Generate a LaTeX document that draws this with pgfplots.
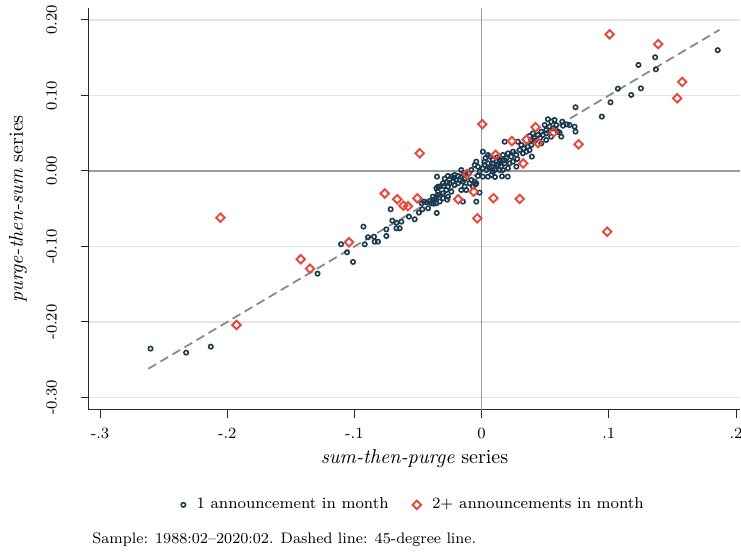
\documentclass[border=0pt]{standalone}
\usepackage{pgfplots}
\pgfplotsset{compat=1.18}
\definecolor{navy}{HTML}{1B3A4F}
\definecolor{tomato}{HTML}{E8473A}
\definecolor{zeroline}{HTML}{9A9A9A}
\definecolor{gridc}{HTML}{E4E4E4}
\definecolor{dashc}{HTML}{8A8A8A}
\pgfplotstableread{
x y
-0.2603 -0.2353
-0.2323 -0.2406
-0.2129 -0.2327
-0.1290 -0.1360
-0.1105 -0.0970
-0.1058 -0.1077
-0.1011 -0.1205
-0.0929 -0.0737
-0.0919 -0.0971
-0.0893 -0.0878
-0.0846 -0.0870
-0.0841 -0.0936
-0.0815 -0.0936
-0.0749 -0.0773
-0.0749 -0.0861
-0.0715 -0.0507
-0.0702 -0.0658
-0.0670 -0.0685
-0.0631 -0.0671
-0.0644 -0.0759
-0.0670 -0.0759
-0.0571 -0.0605
-0.0526 -0.0640
-0.0493 -0.0552
-0.0466 -0.0507
-0.0471 -0.0428
-0.0453 -0.0406
-0.0430 -0.0415
-0.0408 -0.0397
-0.0382 -0.0384
-0.0367 -0.0375
-0.0356 -0.0340
-0.0343 -0.0318
-0.0356 -0.0428
-0.0377 -0.0433
-0.0353 -0.0556
-0.0351 -0.0075
-0.0343 -0.0208
0.0010 0.0256
0.0050 0.0212
-0.0265 -0.0066
-0.0238 -0.0075
-0.0212 -0.0053
-0.0186 -0.0066
-0.0160 -0.0075
-0.0173 -0.0119
-0.0199 -0.0119
-0.0225 -0.0141
-0.0251 -0.0163
-0.0212 -0.0185
-0.0186 -0.0163
-0.0147 -0.0141
-0.0134 -0.0110
-0.0081 0.0013
-0.0055 0.0079
-0.0042 0.0124
-0.0029 0.0057
-0.0016 -0.0009
0.0010 0.0036
0.0024 0.0079
0.0037 0.0013
0.0050 0.0102
0.0076 0.0057
0.0089 0.0102
0.0102 0.0013
0.0128 0.0079
0.0141 0.0124
0.0154 0.0057
0.0167 0.0013
0.0076 -0.0053
0.0050 -0.0075
0.0010 -0.0075
-0.0029 -0.0066
-0.0055 -0.0141
-0.0081 -0.0119
-0.0094 -0.0163
-0.0068 -0.0207
-0.0042 -0.0163
-0.0016 -0.0287
-0.0304 -0.0163
-0.0330 -0.0207
-0.0356 -0.0230
-0.0343 -0.0274
-0.0304 -0.0296
-0.0277 -0.0252
-0.0265 -0.0207
-0.0383 -0.0340
-0.0395 -0.0428
-0.0421 -0.0494
-0.0304 -0.0362
-0.0265 -0.0340
-0.0238 -0.0274
-0.0160 -0.0252
-0.0134 -0.0207
-0.0330 -0.0406
-0.0121 -0.0252
-0.0047 -0.0177
-0.0270 -0.0380
-0.0147 -0.0406
-0.0042 -0.0406
-0.0160 0.0013
0.0105 -0.0080
0.0160 -0.0070
0.0205 -0.0075
0.0521 0.0685
0.0547 0.0654
0.0573 0.0675
0.0495 0.0609
0.0534 0.0587
0.0508 0.0543
0.0469 0.0520
0.0442 0.0477
0.0403 0.0499
0.0377 0.0464
0.0390 0.0411
0.0416 0.0433
0.0508 0.0411
0.0469 0.0366
0.0364 0.0322
0.0312 0.0344
0.0285 0.0388
0.0181 0.0388
0.0299 0.0278
0.0246 0.0256
0.0207 0.0234
0.0167 0.0212
0.0141 0.0146
0.0194 0.0168
0.0233 0.0190
0.0273 0.0212
0.0351 0.0256
0.0377 0.0278
0.0063 0.0190
0.0024 0.0123
0.0089 0.0146
0.0115 0.0079
0.0181 0.0102
0.0220 0.0102
0.0246 0.0123
0.0207 0.0036
0.0141 0.0013
0.0089 -0.0009
0.0273 0.0057
0.0738 0.0844
0.0634 0.0653
0.0670 0.0618
0.0691 0.0609
0.0731 0.0587
0.0738 0.0521
0.0587 0.0609
0.0560 0.0565
0.0600 0.0521
0.0626 0.0455
0.0547 0.0455
0.0508 0.0499
0.0481 0.0477
0.0391 0.0344
0.0395 0.0190
0.0325 0.0234
0.0613 0.0508
0.1856 0.1600
0.1364 0.1506
0.1233 0.1404
0.1370 0.1347
0.1071 0.1090
0.1252 0.1095
0.1176 0.1007
0.1013 0.0910
0.0945 0.0720
-0.0290 -0.0100
-0.0220 -0.0090
-0.0140 -0.0050
-0.0100 -0.0030
-0.0300 -0.0200
-0.0270 -0.0150
0.0030 0.0170
0.0120 0.0180
0.0180 0.0140
0.0060 0.0040
0.0420 0.0400
0.0460 0.0440
0.0330 0.0300
0.0580 0.0560
0.0640 0.0600
0.0280 0.0160
}\singletab
\pgfplotstableread{
x y
0.1006 0.1810
0.1388 0.1680
0.1577 0.1180
0.1537 0.0963
0.0762 0.0353
0.0987 -0.0804
0.0005 0.0620
0.0424 0.0580
0.0566 0.0510
0.0238 0.0395
0.0354 0.0415
0.0443 0.0370
0.0110 0.0214
0.0327 0.0100
-0.0115 -0.0040
-0.0062 -0.0274
-0.0184 -0.0375
0.0093 -0.0360
-0.0034 -0.0627
0.0299 -0.0371
-0.0487 0.0234
-0.0762 -0.0298
-0.0663 -0.0375
-0.0615 -0.0460
-0.0579 -0.0466
-0.0505 -0.0362
-0.1042 -0.0944
-0.1422 -0.1170
-0.1349 -0.1294
-0.1927 -0.2040
-0.2053 -0.0618
}\multitab
\begin{document}
\begin{tikzpicture}
\useasboundingbox (-44.5pt,-71pt) rectangle (326pt,205pt);
\begin{axis}[
  at={(0,0)}, anchor=south west,
  width=325.5pt, height=201pt, scale only axis,
  xmin=-0.30865, xmax=0.2031, ymin=-0.3166, ymax=0.2159,
  axis lines=left,
  axis line style={-, black!85, line width=0.5pt},
  xtick={-0.3,-0.2,-0.1,0,0.1,0.2},
  xticklabels={-.3,-.2,-.1,0,.1,.2},
  ytick={-0.3,-0.2,-0.1,0,0.1,0.2},
  yticklabels={-0.30,-0.20,-0.10,0.00,0.10,0.20},
  tick align=outside, major tick length=4pt,
  tick style={black!85, line width=0.5pt},
  ticklabel style={font=\fontsize{7.8}{9}\selectfont},
  yticklabel style={rotate=90, anchor=south},
  yticklabel shift=8.5pt, xticklabel shift=1.5pt,
  ymajorgrids, major grid style={gridc, line width=0.6pt},
  xlabel={\textit{sum-then-purge} series},
  ylabel={\textit{purge-then-sum} series},
  xlabel style={at={(axis description cs:0.5,-0.12)}, anchor=center, font=\normalsize},
  ylabel style={at={(axis description cs:-0.109,0.5)}, anchor=center, font=\normalsize},
  legend style={at={(axis description cs:0.5,-0.236)}, anchor=center, draw=none, fill=none,
    legend columns=2, font=\fontsize{7.9}{9.5}\selectfont,
    /tikz/every odd column/.append style={column sep=3.5pt},
    /tikz/every even column/.append style={column sep=10pt}},
  legend cell align=left,
]
\addplot[forget plot, zeroline, line width=0.7pt] coordinates {(-0.30865,0) (0.2031,0)};
\addplot[forget plot, zeroline, line width=0.7pt] coordinates {(0,-0.3166) (0,0.2159)};
\addplot[only marks, mark=o, mark size=1.1pt, navy, mark options={line width=0.8pt}] table[x=x,y=y] {\singletab};
\addlegendentry{1 announcement in month}
\addplot[only marks, mark=square, mark size=1.5pt, tomato, mark options={rotate=45, line width=0.95pt, fill=white}] table[x=x,y=y] {\multitab};
\addlegendentry{2+ announcements in month}
\addplot[forget plot, dashc, line width=0.9pt, dash pattern=on 4.5pt off 2.5pt] coordinates {(-0.262,-0.262) (0.187,0.187)};
\end{axis}
\node[anchor=base west, inner sep=0pt, font=\fontsize{7.6}{9}\selectfont] at (1.5pt,-67pt) {Sample: 1988:02--2020:02. Dashed line: 45-degree line.};
\end{tikzpicture}
\end{document}
